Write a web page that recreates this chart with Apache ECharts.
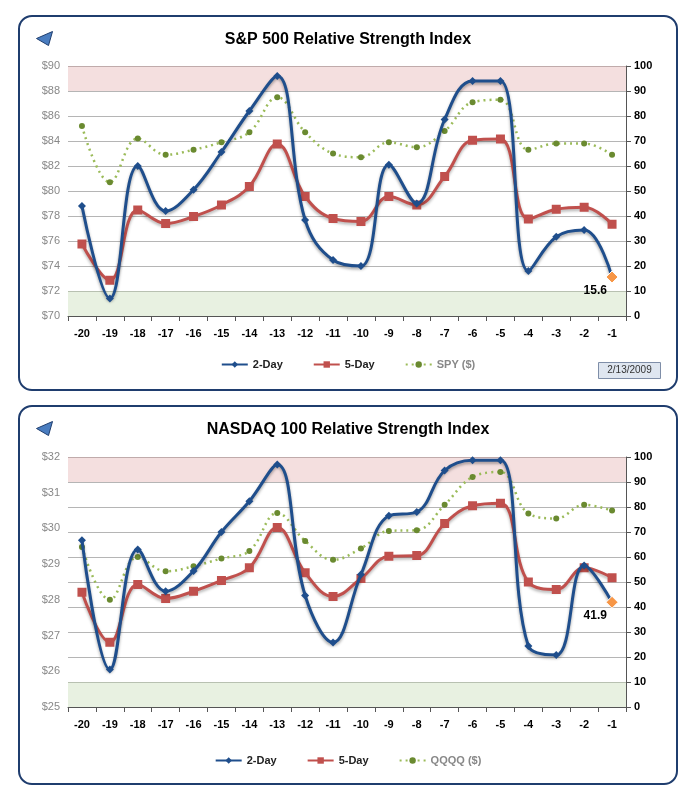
<!DOCTYPE html>
<html><head><meta charset="utf-8">
<script src="https://cdn.jsdelivr.net/npm/echarts@6/dist/echarts.min.js"></script>
<style>
body{margin:0;background:#fff;width:699px;height:800px;position:relative;font-family:"Liberation Sans",Arial,sans-serif}
.p{position:absolute;left:18px;width:660px;border:2px solid #1f3d6e;border-radius:14px;box-sizing:border-box}
</style></head><body>
<div id="c1" class="p" style="top:15px;height:376px"></div>
<div id="c2" class="p" style="top:405px;height:380px"></div>
<script>
const categories=['-20','-19','-18','-17','-16','-15','-14','-13','-12','-11','-10','-9','-8','-7','-6','-5','-4','-3','-2','-1'];
const spx2Day=[44,7,60,42,50.5,65.6,82,96,38.4,22.4,20,60.5,45,78.6,94,94,18,31.7,34.4,15.6];
const spx5Day=[28.8,14.3,42.4,37,39.8,44.4,51.8,68.8,47.8,39,37.8,47.8,44.4,55.8,70.3,70.8,38.8,42.7,43.5,36.7];
const spyPrice=[85.2,80.7,84.2,82.9,83.3,83.9,84.7,87.5,84.7,83.0,82.7,83.9,83.5,84.8,87.1,87.3,83.3,83.8,83.8,82.9];
const ndx2Day=[66.7,15,63,46.3,54.4,70,82.3,97,44.6,25.8,53,76.5,78,94.6,98.7,98.7,24.4,20.8,56.6,41.9];
const ndx5Day=[45.9,25.9,49,43.4,46.3,50.6,55.7,71.8,53.7,44.2,51.4,60.3,60.6,73.4,80.5,81.5,50,47,55.7,51.7];
const qqqqPrice=[29.48,28.0,29.2,28.8,28.94,29.16,29.37,30.43,29.65,29.12,29.44,29.93,29.95,30.66,31.44,31.58,30.42,30.28,30.66,30.5];
const spyTicks=[70,90,2];
const qqqqTicks=[25,32,1];

function build(el,title,d2,d5,px,pxName,ticks,top,dateBox){
  const c=echarts.init(document.getElementById(el));
  const last=d2.length-1;
  const d2data=d2.map((v,i)=>i===last?{value:v,symbol:'diamond',symbolSize:12,itemStyle:{color:'#f79646',borderColor:'#fff',borderWidth:1},label:{show:true,position:[-22,14],formatter:String(v),color:'#000',fontSize:12,fontWeight:'bold'}}:v);
  const graphic=[{type:'polygon',left:16,top:14,shape:{points:[[0,7],[16,0],[12,14]]},style:{fill:'#4a7dc0',stroke:'#1f3d6e'}}];
  if(dateBox) graphic.push({type:'group',left:578,top:345,children:[{type:'rect',shape:{width:62,height:16},style:{fill:'#dfe6f0',stroke:'#7f8ea8'}},{type:'text',style:{text:'2/13/2009',x:31,y:8,align:'center',verticalAlign:'middle',fontSize:10,fill:'#333',fontFamily:'Liberation Sans'}}]});
  c.setOption({
    animation:false,
    title:{text:title,left:'center',top:10,textStyle:{fontSize:16,fontWeight:'bold',color:'#000',fontFamily:'Liberation Sans'}},
    graphic:graphic,
    grid:{left:48,right:50,top:top,height:250},
    legend:{bottom:dateBox?14:12,itemGap:30,itemWidth:26,itemHeight:8,textStyle:{fontSize:11,fontWeight:'bold',color:'#222'},
      data:[{name:'2-Day'},{name:'5-Day'},{name:pxName,textStyle:{color:'#888'}}]},
    xAxis:{type:'category',data:categories,boundaryGap:true,axisLine:{lineStyle:{color:'#555'}},axisTick:{show:true,lineStyle:{color:'#555'}},axisLabel:{color:'#000',fontWeight:'bold',fontSize:11,margin:12}},
    yAxis:[
      {type:'value',min:ticks[0],max:ticks[1],interval:ticks[2],position:'left',splitLine:{show:false},axisLine:{show:false},axisTick:{show:false},axisLabel:{formatter:'${value}',color:'#888',fontSize:11}},
      {type:'value',min:0,max:100,interval:10,position:'right',splitLine:{lineStyle:{color:'#b5b5b5'}},axisLine:{show:true,lineStyle:{color:'#555'}},axisTick:{show:true},axisLabel:{color:'#000',fontWeight:'bold',fontSize:11}}
    ],
    series:[
      {name:'2-Day',type:'line',yAxisIndex:1,smooth:0.4,data:d2data,symbol:'diamond',symbolSize:8,z:4,
       lineStyle:{color:'#1f4e8c',width:3,shadowColor:'rgba(0,0,0,0.35)',shadowBlur:3,shadowOffsetY:2},itemStyle:{color:'#1f4e8c'},
       markArea:{silent:true,data:[[{yAxis:90,itemStyle:{color:'rgba(220,150,150,0.3)'}},{yAxis:100}],[{yAxis:0,itemStyle:{color:'rgba(190,215,170,0.35)'}},{yAxis:10}]]}},
      {name:'5-Day',type:'line',yAxisIndex:1,smooth:0.4,data:d5,symbol:'rect',symbolSize:9,z:3,
       lineStyle:{color:'#c0504d',width:3,shadowColor:'rgba(0,0,0,0.3)',shadowBlur:3,shadowOffsetY:2},itemStyle:{color:'#c0504d'}},
      {name:pxName,type:'line',yAxisIndex:0,smooth:0.4,data:px,symbol:'circle',symbolSize:6,z:2,
       lineStyle:{color:'#9bbb59',width:2.5,type:[2,4]},itemStyle:{color:'#6a8a30'}}
    ]
  });
}
build('c1','S&P 500 Relative Strength Index',spx2Day,spx5Day,spyPrice,'SPY ($)',spyTicks,49,true);
build('c2','NASDAQ 100 Relative Strength Index',ndx2Day,ndx5Day,qqqqPrice,'QQQQ ($)',qqqqTicks,50,false);
</script></body></html>
